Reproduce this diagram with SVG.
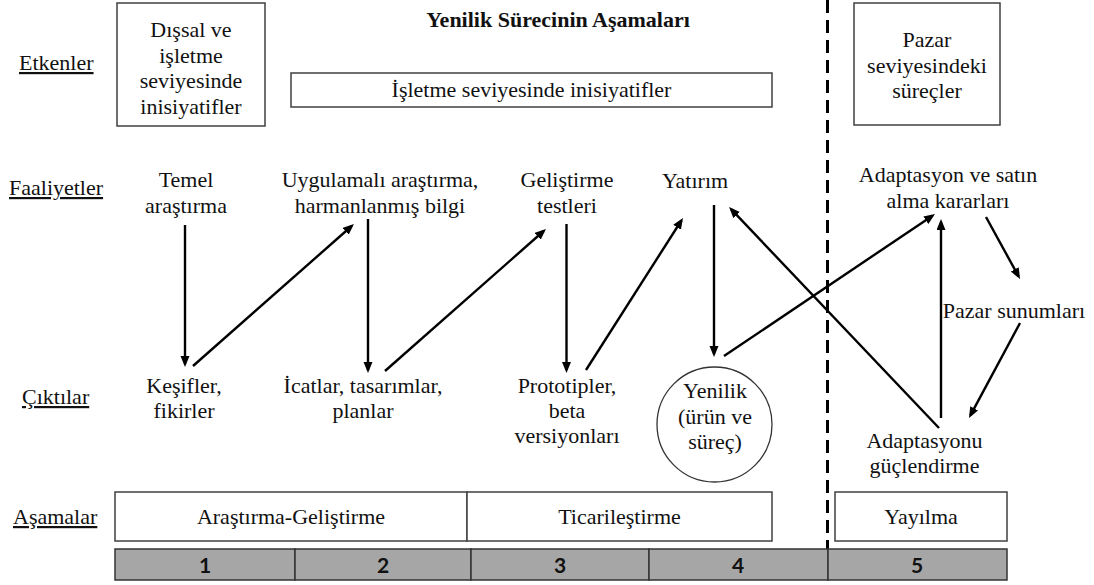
<svg xmlns="http://www.w3.org/2000/svg" width="1094" height="585" viewBox="0 0 1094 585">
  <style>
    .t { font-family: 'Liberation Serif', 'Times New Roman', serif; font-size: 22px; fill: #111; }
    .c { text-anchor: middle; }
    .u { text-decoration: underline; }
    .title { font-weight: bold; }
    .box { fill: #fff; stroke: #404040; stroke-width: 1.5; }
    .bar { fill: #a6a6a6; stroke: #333; stroke-width: 1.5; }
    .num { font-family: Lato, 'Liberation Sans', sans-serif; font-weight: bold; font-size: 21px; fill: #111; text-anchor: middle; }
    .edge { stroke: #000; stroke-width: 2.4; fill: none; marker-end: url(#arrow); }
  </style>
  <defs>
    <marker id="arrow" markerUnits="userSpaceOnUse" markerWidth="12" markerHeight="10" refX="8" refY="4.5" orient="auto">
      <path d="M0,0 L11,4.5 L0,9 z" fill="#000"/>
    </marker>
  </defs>
  <rect width="1094" height="585" fill="#fff"/>

  <!-- row labels -->
  <g id="row-labels">
    <text class="t u" x="19" y="70">Etkenler</text>
    <text class="t u" x="9" y="195">Faaliyetler</text>
    <text class="t u" x="22" y="404">Çıktılar</text>
    <text class="t u" x="13" y="524">Aşamalar</text>
  </g>

  <text class="t title c" x="558" y="27">Yenilik Sürecinin Aşamaları</text>

  <!-- market boundary -->
  <line x1="827.5" y1="0" x2="827.5" y2="549" stroke="#000" stroke-width="3" stroke-dasharray="13 7"/>

  <!-- drivers -->
  <g id="driver-external">
    <rect class="box" x="117" y="3" width="148" height="123"/>
    <text class="t c" x="191" y="37">Dışsal ve</text>
    <text class="t c" x="191" y="62.5">işletme</text>
    <text class="t c" x="191" y="88">seviyesinde</text>
    <text class="t c" x="191" y="113.5">inisiyatifler</text>
  </g>
  <g id="driver-firm">
    <rect class="box" x="291" y="73" width="481" height="34"/>
    <text class="t c" x="531.5" y="97">İşletme seviyesinde inisiyatifler</text>
  </g>
  <g id="driver-market">
    <rect class="box" x="854" y="3" width="146" height="122"/>
    <text class="t c" x="927" y="47">Pazar</text>
    <text class="t c" x="927" y="73">seviyesindeki</text>
    <text class="t c" x="927" y="98">süreçler</text>
  </g>

  <!-- activities -->
  <g id="act-basic">
    <text class="t c" x="186" y="187">Temel</text>
    <text class="t c" x="186" y="213">araştırma</text>
  </g>
  <g id="act-applied">
    <text class="t c" x="380" y="187">Uygulamalı araştırma,</text>
    <text class="t c" x="380" y="213">harmanlanmış bilgi</text>
  </g>
  <g id="act-dev">
    <text class="t c" x="567" y="187">Geliştirme</text>
    <text class="t c" x="567" y="213">testleri</text>
  </g>
  <g id="act-invest">
    <text class="t c" x="695" y="188">Yatırım</text>
  </g>
  <g id="act-adoption">
    <text class="t c" x="948" y="182">Adaptasyon ve satın</text>
    <text class="t c" x="948" y="208">alma kararları</text>
  </g>
  <g id="act-offers">
    <text class="t c" x="1014" y="318">Pazar sunumları</text>
  </g>

  <!-- outputs -->
  <g id="out-discovery">
    <text class="t c" x="184" y="393">Keşifler,</text>
    <text class="t c" x="184" y="418">fikirler</text>
  </g>
  <g id="out-invention">
    <text class="t c" x="363" y="393">İcatlar, tasarımlar,</text>
    <text class="t c" x="363" y="418">planlar</text>
  </g>
  <g id="out-prototype">
    <text class="t c" x="567" y="393">Prototipler,</text>
    <text class="t c" x="567" y="418">beta</text>
    <text class="t c" x="567" y="443">versiyonları</text>
  </g>
  <g id="out-innovation">
    <circle cx="714.5" cy="424.5" r="57.5" fill="#fff" stroke="#333" stroke-width="1.3"/>
    <text class="t c" x="715" y="398">Yenilik</text>
    <text class="t c" x="715" y="424">(ürün ve</text>
    <text class="t c" x="715" y="449">süreç)</text>
  </g>
  <g id="out-reinforce">
    <text class="t c" x="924.5" y="448">Adaptasyonu</text>
    <text class="t c" x="924.5" y="473">güçlendirme</text>
  </g>

  <!-- connectors -->
  <g id="connectors">
    <line class="edge" x1="185" y1="225" x2="185" y2="364"/>
    <line class="edge" x1="193" y1="366" x2="351.7" y2="226"/>
    <line class="edge" x1="368" y1="219" x2="368" y2="370"/>
    <line class="edge" x1="385" y1="371" x2="543.7" y2="231"/>
    <line class="edge" x1="566.5" y1="224" x2="566.5" y2="370"/>
    <line class="edge" x1="586" y1="370" x2="681.4" y2="220.5"/>
    <line class="edge" x1="714" y1="205" x2="714" y2="354"/>
    <line class="edge" x1="724" y1="356" x2="932.5" y2="215.7"/>
    <line class="edge" x1="939" y1="428" x2="731.1" y2="209.2"/>
    <line class="edge" x1="941" y1="418" x2="941" y2="222"/>
    <line class="edge" x1="986" y1="217" x2="1018.6" y2="276.4"/>
    <line class="edge" x1="1020" y1="323" x2="970.4" y2="415.4"/>
  </g>

  <!-- phases -->
  <g id="phase-rnd">
    <rect class="box" x="115" y="492" width="352" height="49"/>
    <text class="t c" x="291" y="524">Araştırma-Geliştirme</text>
  </g>
  <g id="phase-commercial">
    <rect class="box" x="467" y="492" width="305" height="49"/>
    <text class="t c" x="619.5" y="524">Ticarileştirme</text>
  </g>
  <g id="phase-diffusion">
    <rect class="box" x="835" y="492" width="172" height="49"/>
    <text class="t c" x="921" y="524">Yayılma</text>
  </g>

  <!-- numbered stage bar -->
  <g id="stage-bar">
    <rect class="bar" x="115" y="549" width="180" height="31"/>
    <rect class="bar" x="295" y="549" width="176" height="31"/>
    <rect class="bar" x="471" y="549" width="178" height="31"/>
    <rect class="bar" x="649" y="549" width="179" height="31"/>
    <rect class="bar" x="828" y="549" width="179" height="31"/>
    <text class="num" x="205" y="573">1</text>
    <text class="num" x="383" y="573">2</text>
    <text class="num" x="560" y="573">3</text>
    <text class="num" x="738" y="573">4</text>
    <text class="num" x="917" y="573">5</text>
  </g>
</svg>
